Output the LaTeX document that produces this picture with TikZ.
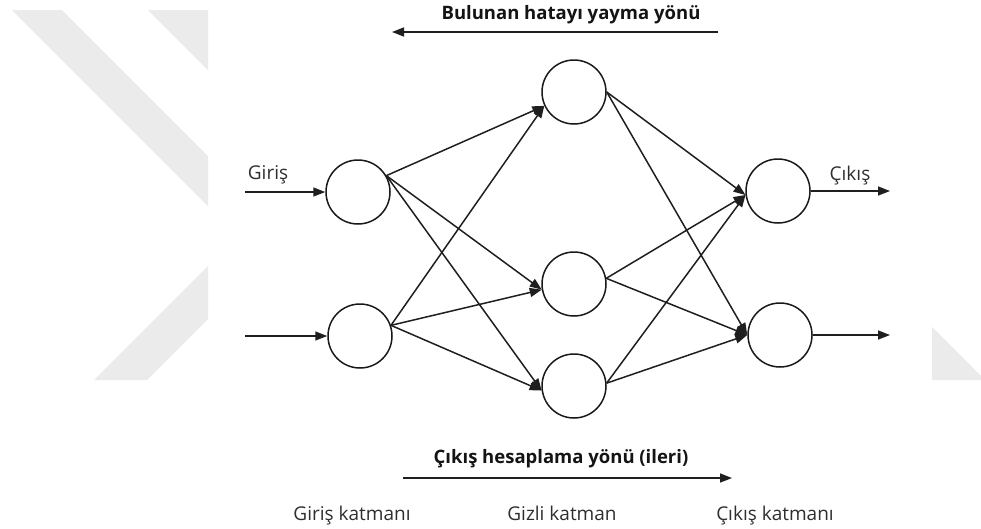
\documentclass[tikz,border=0pt]{standalone}
\usepackage{fontspec}
\setmainfont{Open Sans}
\usetikzlibrary{arrows.meta}

\tikzset{
  neuron/.style={circle, draw=black!90, line width=1.5pt, minimum size=64pt, inner sep=0pt, fill=white},
  link/.style={draw=black!88, line width=1.5pt, -{Triangle[length=12pt, width=9pt]}},
  flowtitle/.style={font=\fontsize{18.5}{22}\selectfont\bfseries, text=black!92, anchor=base, inner sep=0pt},
  caption/.style={font=\fontsize{19}{22}\selectfont, text=black!82, anchor=base, inner sep=0pt},
  emblem/.style={fill=black!8, draw=none}
}

\begin{document}
\begin{tikzpicture}[x=1pt, y=-1pt]
  \useasboundingbox (0,0) rectangle (981,528);

  % faint background emblem strokes
  \fill[emblem] (12,10) -- (62,10) -- (208,156) -- (208,206) -- cycle;
  \fill[emblem] (148,10) -- (208,10) -- (208,70) -- cycle;
  \fill[emblem] (94,380) -- (147,380) -- (208,319) -- (208,266) -- cycle;
  \fill[emblem] (932,327) -- (981,376) -- (981,380) -- (932,380) -- cycle;

  % neurons
  \node[neuron] (i1) at (358,192) {};
  \node[neuron] (i2) at (360,336) {};
  \node[neuron] (h1) at (574,92) {};
  \node[neuron] (h2) at (574,284) {};
  \node[neuron] (h3) at (574,386) {};
  \node[neuron] (o1) at (778,191) {};
  \node[neuron] (o2) at (780,335) {};

  % external inputs and outputs
  \coordinate (x1) at (245,192);
  \coordinate (x2) at (245,336);
  \coordinate (y1) at (890,191);
  \coordinate (y2) at (890,335);
  \draw[link] (x1) -- (i1.west);
  \draw[link] (x2) -- (i2.west);
  \draw[link] (o1.east) -- (y1);
  \draw[link] (o2.east) -- (y2);

  % input -> hidden
  \foreach \s/\a in {i1/30, i2/19}{
    \draw[link] (\s.\a) -- (h1.205);
    \draw[link] (\s.\a) -- (h2.190);
    \draw[link] (\s.\a) -- (h3.188);
  }
  % hidden -> output
  \foreach \s/\a in {h1/0, h2/10, h3/5}{
    \draw[link] (\s.\a) -- (o1.187);
    \draw[link] (\s.\a) -- (o2.180);
  }

  % direction arrows
  \coordinate (ba) at (718,32);
  \coordinate (bb) at (392,32);
  \coordinate (fa) at (403,478);
  \coordinate (fb) at (732,478);
  \draw[link] (ba) -- (bb);
  \draw[link] (fa) -- (fb);

  % labels
  \node[flowtitle] (tback) at (571,19) {Bulunan hatayı yayma yönü};
  \node[flowtitle] (tfwd) at (561,463) {Çıkış hesaplama yönü (ileri)};
  \node[caption] (lin) at (268,179) {Giriş};
  \node[caption] (lout) at (850,180) {Çıkış};
  \node[caption] (c1) at (352,520) {Giriş katmanı};
  \node[caption] (c2) at (562,520) {Gizli katman};
  \node[caption] (c3) at (775,520) {Çıkış katmanı};
\end{tikzpicture}
\end{document}
